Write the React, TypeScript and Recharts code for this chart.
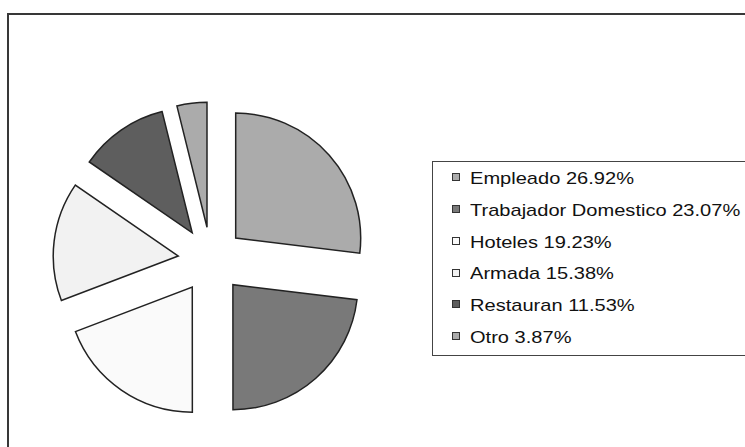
import { PieChart, Pie, Legend, Sector } from "recharts";

const categories = ["Empleado", "Trabajador Domestico", "Hoteles", "Armada", "Restauran", "Otro"];
const shares = [26.92, 23.07, 19.23, 15.38, 11.53, 3.87];
const sliceColors = ["#ababab", "#797979", "#fafafa", "#f2f2f2", "#5e5e5e", "#ababab"];

const pieData = categories.map((name, i) => ({ name, value: shares[i] }));

const RADIAN = Math.PI / 180;
const EXPLODE = 33; // how far each slice is pulled out from the centre

// slices are drawn through the label hook so each one can be pushed out along its mid angle
const ExplodedSlice = (props: any) => {
  const { cx, cy, innerRadius, outerRadius, startAngle, endAngle, index } = props;
  const mid = (startAngle + endAngle) / 2;
  const dx = EXPLODE * Math.cos(-mid * RADIAN);
  const dy = EXPLODE * Math.sin(-mid * RADIAN);
  return (
    <Sector
      cx={cx + dx}
      cy={cy + dy}
      innerRadius={innerRadius}
      outerRadius={outerRadius}
      startAngle={startAngle}
      endAngle={endAngle}
      fill={sliceColors[index]}
      stroke="#222"
      strokeWidth={1.5}
    />
  );
};

const ROW_TOP = 16.7;
const ROW_STEP = 31.8;

// legend keeps the data order (recharts sorts the payload by name otherwise)
const LegendBox = () => (
  <div
    style={{
      position: "relative",
      width: 340,
      height: 195,
      border: "1px solid #444",
      boxSizing: "border-box",
      background: "#fff",
      fontFamily: "'Liberation Sans', Arial, sans-serif",
    }}
  >
    {pieData.map((d, i) => {
      const center = ROW_TOP + ROW_STEP * i;
      return (
        <div key={d.name}>
          <div
            style={{
              position: "absolute",
              left: 19,
              top: center - 5.5,
              width: 8,
              height: 8,
              boxSizing: "border-box",
              border: "1px solid #333",
              background: sliceColors[i],
            }}
          />
          <span
            style={{
              position: "absolute",
              left: 37,
              top: center - 9.8,
              fontSize: 17,
              lineHeight: "20px",
              color: "#111",
              whiteSpace: "nowrap",
              transform: "scaleX(1.18)",
              transformOrigin: "left center",
            }}
          >
            {d.name} {d.value.toFixed(2)}%
          </span>
        </div>
      );
    })}
  </div>
);

export default function App() {
  return (
    <div
      style={{
        position: "fixed",
        left: 0,
        top: 0,
        width: 745,
        height: 447,
        overflow: "hidden",
        background: "#fff",
      }}
    >
      <div
        style={{
          position: "absolute",
          left: 7,
          top: 13,
          width: 800,
          height: 500,
          border: "2px solid #383838",
        }}
      />
      <div style={{ position: "absolute", left: 0, top: 0 }}>
        <PieChart width={745} height={447} margin={{ top: 0, right: 0, bottom: 0, left: 0 }}>
          <Pie
            data={pieData}
            dataKey="value"
            nameKey="name"
            cx={211}
            cy={260}
            outerRadius={125}
            startAngle={90}
            endAngle={-270}
            fill="none"
            stroke="none"
            label={ExplodedSlice}
            labelLine={false}
            isAnimationActive={false}
          />
          <Legend
            layout="vertical"
            align="right"
            verticalAlign="middle"
            content={<LegendBox />}
            wrapperStyle={{ left: 432, top: 161, width: 340 }}
          />
        </PieChart>
      </div>
    </div>
  );
}
